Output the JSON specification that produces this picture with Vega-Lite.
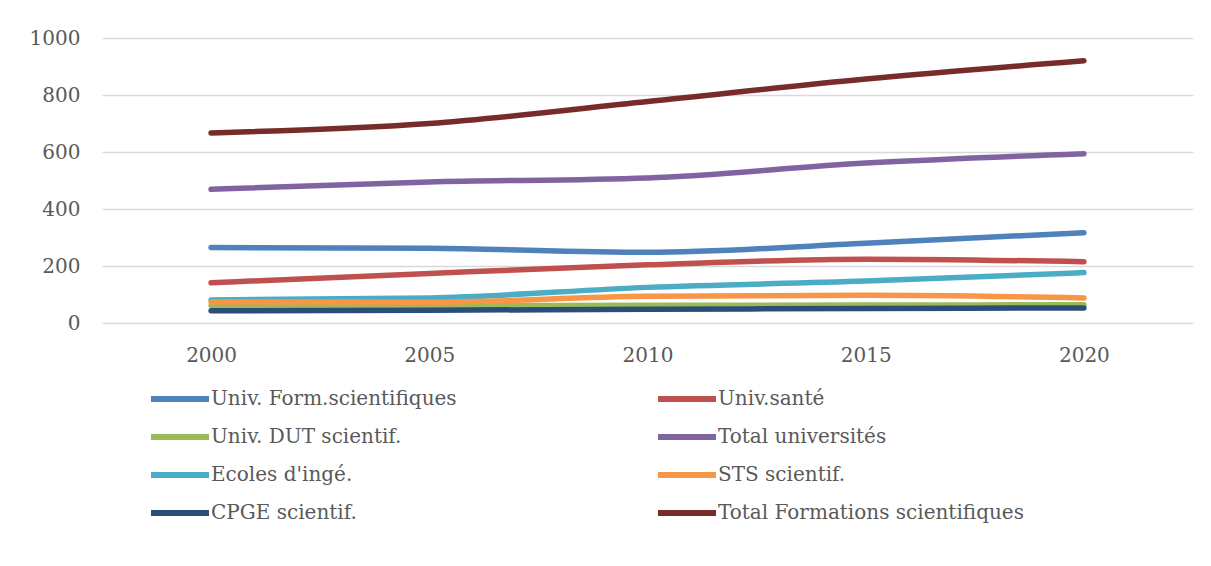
{
  "$schema": "https://vega.github.io/schema/vega-lite/v6.json",
  "autosize": {"type": "none"},
  "padding": {"left": 102, "top": 38, "right": 18, "bottom": 243},
  "width": 1091,
  "height": 285,
  "config": {
    "font": "DejaVu Serif",
    "view": {"stroke": null}
  },
  "data": {
    "values": [
      {"annee": "2000", "serie": "Univ. Form.scientifiques", "valeur": 265},
      {"annee": "2005", "serie": "Univ. Form.scientifiques", "valeur": 262},
      {"annee": "2010", "serie": "Univ. Form.scientifiques", "valeur": 248},
      {"annee": "2015", "serie": "Univ. Form.scientifiques", "valeur": 280},
      {"annee": "2020", "serie": "Univ. Form.scientifiques", "valeur": 317},
      {"annee": "2000", "serie": "Univ.santé", "valeur": 141},
      {"annee": "2005", "serie": "Univ.santé", "valeur": 174},
      {"annee": "2010", "serie": "Univ.santé", "valeur": 204},
      {"annee": "2015", "serie": "Univ.santé", "valeur": 224},
      {"annee": "2020", "serie": "Univ.santé", "valeur": 215},
      {"annee": "2000", "serie": "Univ. DUT scientif.", "valeur": 61},
      {"annee": "2005", "serie": "Univ. DUT scientif.", "valeur": 61},
      {"annee": "2010", "serie": "Univ. DUT scientif.", "valeur": 62},
      {"annee": "2015", "serie": "Univ. DUT scientif.", "valeur": 63},
      {"annee": "2020", "serie": "Univ. DUT scientif.", "valeur": 64},
      {"annee": "2000", "serie": "Total universités", "valeur": 469},
      {"annee": "2005", "serie": "Total universités", "valeur": 495},
      {"annee": "2010", "serie": "Total universités", "valeur": 509},
      {"annee": "2015", "serie": "Total universités", "valeur": 561},
      {"annee": "2020", "serie": "Total universités", "valeur": 594},
      {"annee": "2000", "serie": "Ecoles d'ingé.", "valeur": 81},
      {"annee": "2005", "serie": "Ecoles d'ingé.", "valeur": 88},
      {"annee": "2010", "serie": "Ecoles d'ingé.", "valeur": 125},
      {"annee": "2015", "serie": "Ecoles d'ingé.", "valeur": 147},
      {"annee": "2020", "serie": "Ecoles d'ingé.", "valeur": 177},
      {"annee": "2000", "serie": "STS scientif.", "valeur": 74},
      {"annee": "2005", "serie": "STS scientif.", "valeur": 73},
      {"annee": "2010", "serie": "STS scientif.", "valeur": 94},
      {"annee": "2015", "serie": "STS scientif.", "valeur": 97},
      {"annee": "2020", "serie": "STS scientif.", "valeur": 88},
      {"annee": "2000", "serie": "CPGE scientif.", "valeur": 43},
      {"annee": "2005", "serie": "CPGE scientif.", "valeur": 45},
      {"annee": "2010", "serie": "CPGE scientif.", "valeur": 48},
      {"annee": "2015", "serie": "CPGE scientif.", "valeur": 51},
      {"annee": "2020", "serie": "CPGE scientif.", "valeur": 53},
      {"annee": "2000", "serie": "Total Formations scientifiques", "valeur": 667},
      {"annee": "2005", "serie": "Total Formations scientifiques", "valeur": 700},
      {"annee": "2010", "serie": "Total Formations scientifiques", "valeur": 777},
      {"annee": "2015", "serie": "Total Formations scientifiques", "valeur": 856},
      {"annee": "2020", "serie": "Total Formations scientifiques", "valeur": 920}
    ]
  },
  "mark": {"type": "line", "strokeWidth": 5.5, "strokeCap": "round", "interpolate": "monotone"},
  "encoding": {
    "x": {
      "field": "annee", "type": "ordinal",
      "scale": {"type": "point", "padding": 0.5},
      "axis": {"title": null, "labelAngle": 0, "domain": false, "ticks": false, "labelPadding": 22, "labelFontSize": 20, "labelColor": "#595959", "grid": false}
    },
    "y": {
      "field": "valeur", "type": "quantitative",
      "scale": {"domain": [0, 1000]},
      "axis": {"title": null, "values": [0, 200, 400, 600, 800, 1000], "format": "d", "domain": false, "ticks": false, "labelPadding": 22, "labelFontSize": 20, "labelColor": "#595959", "gridColor": "#d9d9d9", "gridWidth": 1.5}
    },
    "color": {
      "field": "serie", "type": "nominal",
      "scale": {
        "domain": ["Univ. Form.scientifiques", "Univ.santé", "Univ. DUT scientif.", "Total universités", "Ecoles d'ingé.", "STS scientif.", "CPGE scientif.", "Total Formations scientifiques"],
        "range": ["#4F81BD", "#C0504D", "#9BBB59", "#8064A2", "#4BACC6", "#F79646", "#2C4D75", "#772C2A"]
      },
      "legend": {
        "title": null, "orient": "none", "legendX": 65, "legendY": 348,
        "values": ["Univ. Form.scientifiques", "Univ. DUT scientif.", "Ecoles d'ingé.", "CPGE scientif.", "Univ.santé", "Total universités", "STS scientif.", "Total Formations scientifiques"],
        "columns": 2, "columnPadding": 188, "rowPadding": 13,
        "symbolType": "M-3,0H3", "symbolSize": 374, "symbolStrokeWidth": 6,
        "labelFontSize": 20, "labelColor": "#595959", "labelOffset": 18, "labelLimit": 400
      }
    }
  }
}
